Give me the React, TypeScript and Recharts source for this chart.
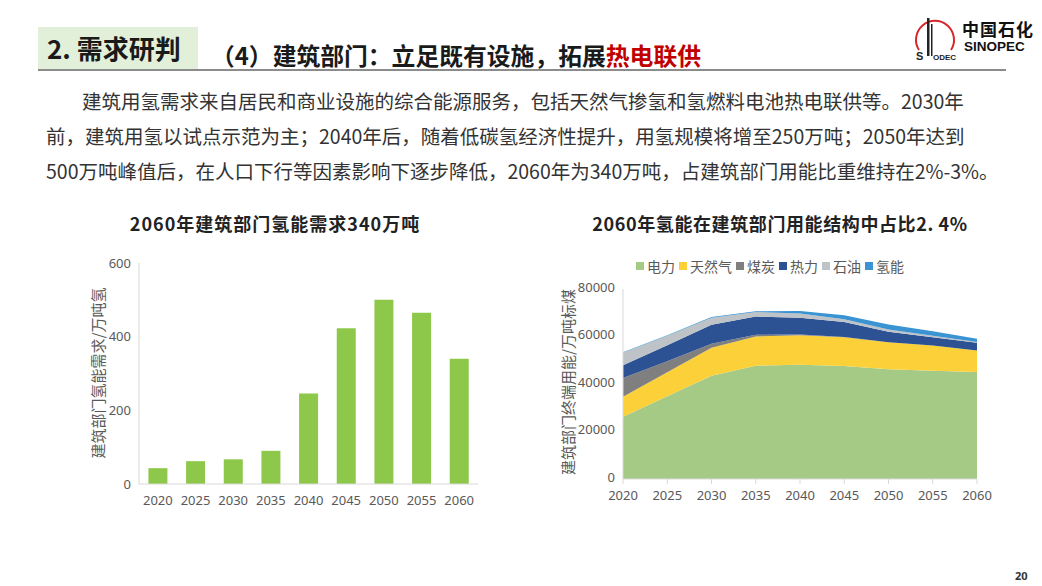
import React from 'react';
import { BarChart, Bar, AreaChart, Area, XAxis, YAxis } from 'recharts';

// left chart: building-sector hydrogen demand (万吨氢)
const barYears = ['2020', '2025', '2030', '2035', '2040', '2045', '2050', '2055', '2060'];
const h2Demand = [43, 62, 67, 90, 246, 423, 500, 465, 340];
const barTicks = [0, 200, 400, 600];

// right chart: building-sector final energy mix (万吨标煤)
const areaYears = ['2020', '2025', '2030', '2035', '2040', '2045', '2050', '2055', '2060'];
const power = [26200, 34800, 43500, 47700, 48100, 47600, 46200, 45600, 45100];
const gas = [8400, 10100, 11800, 12300, 12400, 12100, 11400, 10600, 9000];
const coal = [7900, 4700, 1600, 700, 300, 100, 0, 0, 0];
const heat = [5400, 6700, 8000, 7700, 7100, 6300, 4400, 3500, 3300];
const oil = [5300, 4000, 3000, 1900, 1800, 1200, 1000, 600, 300];
const hydrogen = [180, 250, 280, 370, 1000, 1700, 2050, 1900, 1400];
const areaTicks = [0, 20000, 40000, 60000, 80000];

const seriesNames = ['电力', '天然气', '煤炭', '热力', '石油', '氢能'];
const seriesColors = ['#A5CA86', '#FCD038', '#7F7F7F', '#2D5294', '#BEC3C7', '#3A93D2'];
const seriesKeys = ['power', 'gas', 'coal', 'heat', 'oil', 'hydrogen'];

const barData = barYears.map((y, i) => ({ year: y, value: h2Demand[i] }));
const areaData = areaYears.map((y, i) => ({
  year: y,
  power: power[i],
  gas: gas[i],
  coal: coal[i],
  heat: heat[i],
  oil: oil[i],
  hydrogen: hydrogen[i],
}));

const cjk = '"Noto Sans CJK SC", "Noto Sans", sans-serif';
const tickStyle = { fontSize: 13, fill: '#595959', fontFamily: '"Noto Sans", sans-serif' };

const paraLines = [
  { left: 82, top: 86, text: '建筑用氢需求来自居民和商业设施的综合能源服务，包括天然气掺氢和氢燃料电池热电联供等。2030年' },
  { left: 46, top: 121, text: '前，建筑用氢以试点示范为主；2040年后，随着低碳氢经济性提升，用氢规模将增至250万吨；2050年达到' },
  { left: 46, top: 156, text: '500万吨峰值后，在人口下行等因素影响下逐步降低，2060年为340万吨，占建筑部门用能比重维持在2%-3%。' },
];

function Logo() {
  return (
    <div style={{ position: 'absolute', left: 912, top: 12, width: 125, height: 52 }}>
      <svg width={46} height={52} style={{ position: 'absolute', left: 0, top: 0 }}>
        <path d="M 7 38 A 19 19 0 1 1 39 38" fill="none" stroke="#D7262B" strokeWidth={2} />
        <rect x={15} y={6} width={2.5} height={38} fill="#222" />
        <rect x={19} y={12} width={1.5} height={32} fill="#222" />
        <text x={4} y={48} fontSize={11} fontWeight="bold" fill="#222" fontFamily="Arial">S</text>
        <text x={21} y={48} fontSize={8} fontWeight="bold" fill="#222" fontFamily="Arial">ODEC</text>
      </svg>
      <div style={{ position: 'absolute', left: 50, top: 4, fontSize: 17, fontWeight: 'bold', fontFamily: cjk, color: '#111', letterSpacing: 1, whiteSpace: 'nowrap' }}>
        中国石化
      </div>
      <div style={{ position: 'absolute', left: 52, top: 27, fontSize: 13.5, fontWeight: 'bold', fontFamily: 'Arial, "Liberation Sans", sans-serif', color: '#111' }}>
        SINOPEC
      </div>
    </div>
  );
}

export default function App() {
  return (
    <div style={{ position: 'absolute', left: 0, top: 0, width: 1042, height: 586, background: '#fff', overflow: 'hidden', fontFamily: cjk }}>
      {/* header */}
      <div style={{ position: 'absolute', left: 38, top: 27, width: 160, height: 43, background: '#E2EFD9' }} />
      <div style={{ position: 'absolute', left: 47, top: 29, fontSize: 26, fontWeight: 'bold', color: '#1a1a1a', whiteSpace: 'nowrap' }}>
        2. 需求研判
      </div>
      <div style={{ position: 'absolute', left: 211, top: 37, fontSize: 23.8, fontWeight: 'bold', color: '#1a1a1a', whiteSpace: 'nowrap' }}>
        （4）建筑部门：立足既有设施，拓展<span style={{ color: '#C00000' }}>热电联供</span>
      </div>
      <div style={{ position: 'absolute', left: 38, top: 69, width: 968, height: 2, background: '#8c8c8c' }} />
      <Logo />

      {/* paragraph */}
      {paraLines.map((l, i) => (
        <div key={i} style={{ position: 'absolute', left: l.left, top: l.top, fontSize: 19.5, color: '#333', whiteSpace: 'nowrap' }}>
          {l.text}
        </div>
      ))}

      {/* left chart */}
      <div style={{ position: 'absolute', left: 100, top: 210, width: 350, textAlign: 'center', fontSize: 18, fontWeight: 'bold', color: '#222', letterSpacing: 1, whiteSpace: 'nowrap' }}>
        2060年建筑部门氢能需求340万吨
      </div>
      <div style={{ position: 'absolute', left: 97, top: 373, transform: 'translate(-50%, -50%) rotate(-90deg)', fontSize: 15, color: '#595959', whiteSpace: 'nowrap' }}>
        建筑部门氢能需求/万吨氢
      </div>
      <div style={{ position: 'absolute', left: 60, top: 250 }}>
        <BarChart width={440} height={270} data={barData} margin={{ top: 13, right: 22, bottom: 6, left: 39 }} barCategoryGap="25%">
          <XAxis dataKey="year" tick={tickStyle} tickLine={false} axisLine={{ stroke: '#D9D9D9' }} tickMargin={6} height={30} interval={0} />
          <YAxis domain={[0, 600]} ticks={barTicks} tick={tickStyle} tickLine={false} axisLine={{ stroke: '#D9D9D9' }} width={40} tickMargin={2} />
          <Bar dataKey="value" fill="#8DC84B" isAnimationActive={false} />
        </BarChart>
      </div>

      {/* right chart */}
      <div style={{ position: 'absolute', left: 580, top: 210, width: 400, textAlign: 'center', fontSize: 18, fontWeight: 'bold', color: '#222', letterSpacing: 0.6, whiteSpace: 'nowrap' }}>
        2060年氢能在建筑部门用能结构中占比2. 4%
      </div>
      <div style={{ position: 'absolute', left: 636, top: 256, display: 'flex', fontSize: 14, color: '#595959', whiteSpace: 'nowrap' }}>
        {seriesNames.map((n, i) => (
          <div key={n} style={{ display: 'flex', alignItems: 'center', marginRight: 4 }}>
            <span style={{ display: 'inline-block', width: 8, height: 8, background: seriesColors[i], marginRight: 3 }} />
            {n}
          </div>
        ))}
      </div>
      <div style={{ position: 'absolute', left: 567, top: 382, transform: 'translate(-50%, -50%) rotate(-90deg)', fontSize: 15, color: '#595959', whiteSpace: 'nowrap' }}>
        建筑部门终端用能/万吨标煤
      </div>
      <div style={{ position: 'absolute', left: 540, top: 250 }}>
        <AreaChart width={460} height={260} data={areaData} margin={{ top: 39, right: 23, bottom: 0, left: 33 }}>
          <XAxis dataKey="year" tick={tickStyle} tickLine={{ stroke: '#D9D9D9' }} tickSize={5} axisLine={{ stroke: '#D9D9D9' }} tickMargin={7} height={31} interval={0} />
          <YAxis domain={[0, 80000]} ticks={areaTicks} tick={{ ...tickStyle, dy: -2 }} tickLine={false} axisLine={{ stroke: '#D9D9D9' }} width={50} tickMargin={2} />
          {seriesKeys.map((k, i) => (
            <Area
              key={k}
              type="linear"
              dataKey={k}
              name={seriesNames[i]}
              stackId="mix"
              stroke="none"
              fill={seriesColors[i]}
              fillOpacity={1}
              isAnimationActive={false}
            />
          ))}
        </AreaChart>
      </div>

      <div style={{ position: 'absolute', left: 1015, top: 568, fontSize: 11, fontWeight: 'bold', color: '#333', fontFamily: '"Noto Sans", sans-serif' }}>
        20
      </div>
    </div>
  );
}
